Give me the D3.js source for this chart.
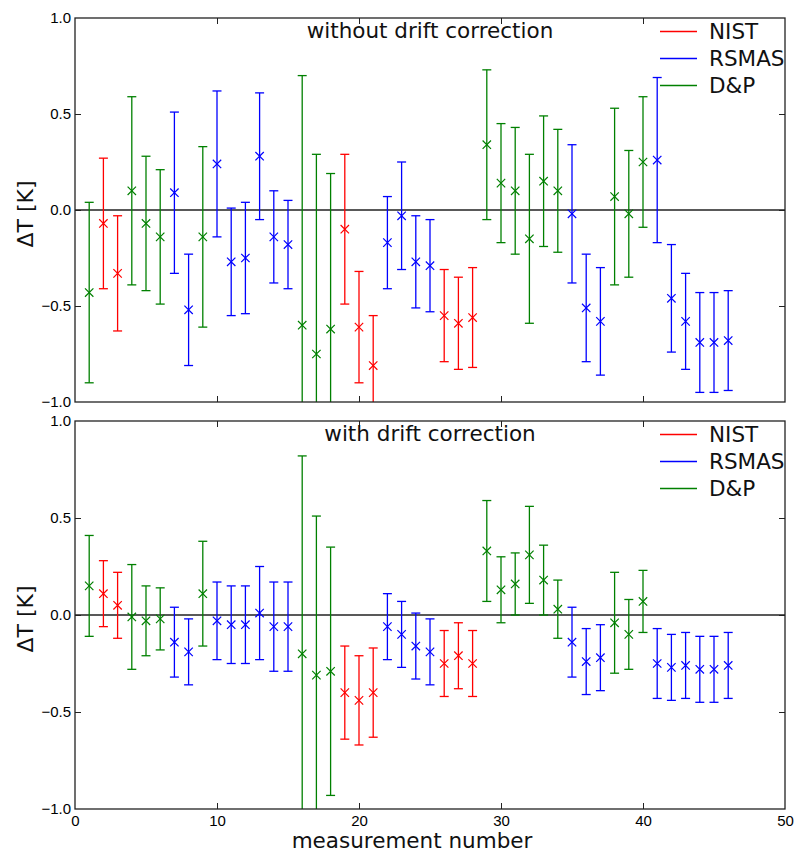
<!DOCTYPE html>
<meta charset="utf-8">
<style>
  body { margin: 0; background: #fff; }
  svg { font-family: 'DejaVu Sans', sans-serif; }
  .frame { fill: none; stroke: #222; stroke-width: 1.3px; }
  .tick line { stroke: #222; stroke-width: 1px; }
  .tick text { font-size: 15px; fill: #000; }
  .zero-line { stroke: #222; stroke-width: 1.3px; }
  .err { stroke-width: 1.3px; fill: none; }
  .mark { stroke-width: 1.2px; }
  .panel-title, .legend text, .axis-label { font-size: 21.5px; fill: #111; }
</style>
<body>
<div id="vis"></div>
<script src="https://cdn.jsdelivr.net/npm/d3@7"></script>
<script>

// measurement number 1..46, source of each one
const sources = ['D&P','NIST','NIST','D&P','D&P','D&P','RSMAS','RSMAS','D&P',
  'RSMAS','RSMAS','RSMAS','RSMAS','RSMAS','RSMAS','D&P','D&P','D&P',
  'NIST','NIST','NIST','RSMAS','RSMAS','RSMAS','RSMAS','NIST','NIST','NIST',
  'D&P','D&P','D&P','D&P','D&P','D&P','RSMAS','RSMAS','RSMAS',
  'D&P','D&P','D&P','RSMAS','RSMAS','RSMAS','RSMAS','RSMAS','RSMAS'];

// without drift correction
const rawDT = [-0.43,-0.07,-0.33,0.10,-0.07,-0.14,0.09,-0.52,-0.14,
  0.24,-0.27,-0.25,0.28,-0.14,-0.18,-0.60,-0.75,-0.62,
  -0.10,-0.61,-0.81,-0.17,-0.03,-0.27,-0.29,-0.55,-0.59,-0.56,
  0.34,0.14,0.10,-0.15,0.15,0.10,-0.02,-0.51,-0.58,
  0.07,-0.02,0.25,0.26,-0.46,-0.58,-0.69,-0.69,-0.68];
const rawErr = [0.47,0.34,0.30,0.49,0.35,0.35,0.42,0.29,0.47,
  0.38,0.28,0.29,0.33,0.24,0.23,1.30,1.04,0.81,
  0.39,0.29,0.26,0.24,0.28,0.24,0.24,0.24,0.24,0.26,
  0.39,0.31,0.33,0.44,0.34,0.32,0.36,0.28,0.28,
  0.46,0.33,0.34,0.43,0.28,0.25,0.26,0.26,0.26];

// with drift correction
const corrDT = [0.15,0.11,0.05,-0.01,-0.03,-0.02,-0.14,-0.19,0.11,
  -0.03,-0.05,-0.05,0.01,-0.06,-0.06,-0.20,-0.31,-0.29,
  -0.40,-0.44,-0.40,-0.06,-0.10,-0.16,-0.19,-0.25,-0.21,-0.25,
  0.33,0.13,0.16,0.31,0.18,0.03,-0.14,-0.24,-0.22,
  -0.04,-0.10,0.07,-0.25,-0.27,-0.26,-0.28,-0.28,-0.26];
const corrErr = [0.26,0.17,0.17,0.27,0.18,0.16,0.18,0.17,0.27,
  0.20,0.20,0.20,0.24,0.23,0.23,1.02,0.82,0.64,
  0.24,0.23,0.23,0.17,0.17,0.17,0.17,0.17,0.17,0.17,
  0.26,0.17,0.16,0.25,0.18,0.15,0.18,0.17,0.17,
  0.26,0.18,0.16,0.18,0.17,0.17,0.17,0.17,0.17];

const legendNames = ['NIST','RSMAS','D&P'];
const xTicks = [0,10,20,30,40,50];
const yTicks = [-1.0,-0.5,0.0,0.5,1.0];

const color = d3.scaleOrdinal().domain(legendNames).range(['#ff0000','#0000ff','#008000']);

const width = 797, height = 852;
const x = d3.scaleLinear().domain([0,50]).range([75,785]);

const svg = d3.select('#vis').append('svg')
    .attr('width', width)
    .attr('height', height);

const drawPanel = (id, top, bottom, title, values, errs, showXLabels) => {
  let y = d3.scaleLinear().domain([-1,1]).range([bottom, top]);
  let g = svg.append('g').attr('class', 'panel');

  g.append('clipPath').attr('id', 'clip-'+id)
    .append('rect')
    .attr('x', x(0)).attr('y', top)
    .attr('width', x(50)-x(0)).attr('height', bottom-top);

  // inward ticks on all four sides
  let left = g.append('g').attr('transform', 'translate('+x(0)+',0)')
    .call(d3.axisLeft(y).tickValues(yTicks).tickSize(-6).tickPadding(4).tickFormat(d3.format('.1f')));
  let right = g.append('g').attr('transform', 'translate('+x(50)+',0)')
    .call(d3.axisRight(y).tickValues(yTicks).tickSize(-6).tickFormat(''));
  let bot = g.append('g').attr('transform', 'translate(0,'+bottom+')')
    .call(d3.axisBottom(x).tickValues(xTicks).tickSize(-6).tickPadding(6).tickFormat(showXLabels ? d3.format('d') : ''));
  let topAx = g.append('g').attr('transform', 'translate(0,'+top+')')
    .call(d3.axisTop(x).tickValues(xTicks).tickSize(-6).tickFormat(''));
  [left, right, bot, topAx].forEach(a => a.select('.domain').remove());
  left.selectAll('text').text(d => d3.format('.1f')(d).replace('-', '\u2212'));
  left.selectAll('.tick').filter(d => d === 1 || d === -1).select('line').remove();
  right.selectAll('.tick').filter(d => d === 1 || d === -1).select('line').remove();
  bot.selectAll('.tick').filter(d => d === 0 || d === 50).select('line').remove();
  topAx.selectAll('.tick').filter(d => d === 0 || d === 50).select('line').remove();

  g.append('line')
    .attr('class', 'zero-line')
    .attr('x1', x(0)).attr('x2', x(50))
    .attr('y1', y(0)).attr('y2', y(0));

  let pts = values.map((v, i) => ({n: i+1, v: v, e: errs[i], src: sources[i]}));
  let marks = g.append('g').attr('clip-path', 'url(#clip-'+id+')')
    .selectAll('.meas')
    .data(pts)
    .enter().append('g')
    .attr('class', 'meas')
    .style('stroke', d => color(d.src));
  const cap = 4.5, mk = 4.2;
  marks.append('line').attr('class', 'err')
    .attr('x1', d => x(d.n)).attr('x2', d => x(d.n))
    .attr('y1', d => y(d.v + d.e)).attr('y2', d => y(d.v - d.e));
  marks.append('line').attr('class', 'err')
    .attr('x1', d => x(d.n)-cap).attr('x2', d => x(d.n)+cap)
    .attr('y1', d => y(d.v + d.e)).attr('y2', d => y(d.v + d.e));
  marks.append('line').attr('class', 'err')
    .attr('x1', d => x(d.n)-cap).attr('x2', d => x(d.n)+cap)
    .attr('y1', d => y(d.v - d.e)).attr('y2', d => y(d.v - d.e));
  marks.append('path').attr('class', 'mark')
    .attr('d', d => {
      let px = x(d.n), py = y(d.v);
      return 'M'+(px-mk)+','+(py-mk)+'L'+(px+mk)+','+(py+mk)
        +'M'+(px-mk)+','+(py+mk)+'L'+(px+mk)+','+(py-mk);
    });

  g.append('rect')
    .attr('class', 'frame')
    .attr('x', x(0)).attr('y', top)
    .attr('width', x(50)-x(0)).attr('height', bottom-top);

  g.append('text')
    .attr('class', 'panel-title')
    .attr('x', (x(0)+x(50))/2)
    .attr('y', top + 20)
    .style('text-anchor', 'middle')
    .text(title);

  let leg = g.append('g').attr('class', 'legend')
    .selectAll('g')
    .data(legendNames)
    .enter().append('g')
    .attr('transform', (d, i) => 'translate(0,'+(top + 13.5 + i*27)+')');
  leg.append('line')
    .attr('x1', 660).attr('x2', 697)
    .style('stroke', d => color(d))
    .style('stroke-width', 1.3);
  leg.append('text')
    .attr('x', 709)
    .attr('dy', '0.36em')
    .text(d => d);

  g.append('text')
    .attr('class', 'axis-label')
    .attr('transform', 'translate(33,'+((top+bottom)/2 + 4)+') rotate(-90)')
    .style('text-anchor', 'middle')
    .style('font-size', '22px')
    .text('\u0394T [K]');
};

drawPanel('top', 18, 402, 'without drift correction', rawDT, rawErr, false);
drawPanel('bot', 421, 809, 'with drift correction', corrDT, corrErr, true);

svg.append('text')
  .attr('class', 'axis-label')
  .attr('x', 412)
  .attr('y', 848)
  .style('text-anchor', 'middle')
  .text('measurement number');

</script>
</body>
